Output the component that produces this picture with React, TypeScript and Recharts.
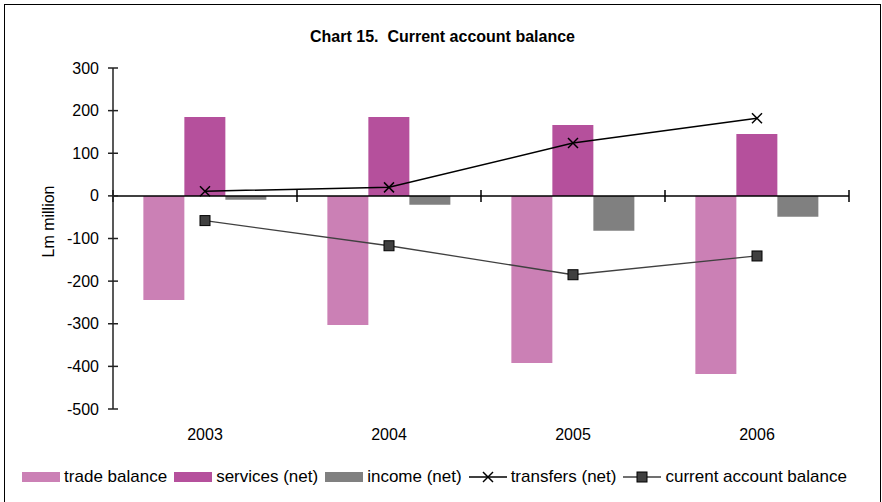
import React from 'react'
import { ComposedChart, Bar, Line, XAxis, YAxis, ReferenceLine, Legend } from 'recharts'

const years = ['2003', '2004', '2005', '2006']
const tradeBalance = [-244, -303, -392, -418]
const servicesNet = [185, 185, 166, 145]
const incomeNet = [-9, -21, -82, -49]
const transfersNet = [11, 20, 124, 182]
const currentAccount = [-58, -117, -185, -141]
const yTicks = [300, 200, 100, 0, -100, -200, -300, -400, -500]

const FONT = '"Liberation Sans", Arial, sans-serif'

const series = [
  { key: 'trade', name: 'trade balance', color: '#cb80b5', kind: 'bar' },
  { key: 'services', name: 'services (net)', color: '#b5509c', kind: 'bar' },
  { key: 'income', name: 'income (net)', color: '#808080', kind: 'bar' },
  { key: 'transfers', name: 'transfers (net)', color: '#000000', kind: 'cross' },
  { key: 'cab', name: 'current account balance', color: '#404040', kind: 'square' },
]

const data = years.map((year, i) => ({
  year,
  trade: tradeBalance[i],
  services: servicesNet[i],
  income: incomeNet[i],
  transfers: transfersNet[i],
  cab: currentAccount[i],
}))

function CrossDot(props: any) {
  const { cx, cy } = props
  if (cx == null || cy == null) return null
  const s = 5
  return (
    <g>
      <line x1={cx - s} y1={cy - s} x2={cx + s} y2={cy + s} stroke="#000" strokeWidth={1.5} />
      <line x1={cx - s} y1={cy + s} x2={cx + s} y2={cy - s} stroke="#000" strokeWidth={1.5} />
    </g>
  )
}

function SquareDot(props: any) {
  const { cx, cy } = props
  if (cx == null || cy == null) return null
  return <rect x={cx - 5} y={cy - 5} width={10} height={10} fill="#404040" stroke="#000" strokeWidth={1} />
}

function YTick(props: any) {
  const { x, y, payload } = props
  const axisX = x + 14
  return (
    <g>
      <line x1={axisX - 5} y1={y} x2={axisX + 5} y2={y} stroke="#222" strokeWidth={1.5} />
      <text x={x} y={y} textAnchor="end" dominantBaseline="central" fontSize={16} fontFamily={FONT} fill="#000">
        {payload.value}
      </text>
    </g>
  )
}

function ZeroLine(props: any) {
  const { x1, y1, x2 } = props
  const n = years.length
  const marks = Array.from({ length: n + 1 }, (_, i) => x1 + ((x2 - x1) * i) / n)
  return (
    <g>
      <line x1={x1} y1={y1} x2={x2} y2={y1} stroke="#000" strokeWidth={1.5} />
      {marks.map((mx, i) => (
        <line key={i} x1={mx} y1={y1 - 6} x2={mx} y2={y1 + 6} stroke="#000" strokeWidth={1.5} />
      ))}
    </g>
  )
}

function LegendContent() {
  return (
    <div style={{ display: 'flex', justifyContent: 'center', alignItems: 'center', fontFamily: FONT, fontSize: 17, color: '#000' }}>
      {series.map((s) => (
        <div key={s.key} style={{ display: 'flex', alignItems: 'center', marginRight: 7 }}>
          <svg width={38} height={12} style={{ marginRight: 4 }}>
            {s.kind === 'bar' && <rect x={0} y={1} width={38} height={10} fill={s.color} />}
            {s.kind === 'cross' && (
              <g>
                <line x1={0} y1={6} x2={38} y2={6} stroke="#000" strokeWidth={1.5} />
                <line x1={14} y1={1} x2={24} y2={11} stroke="#000" strokeWidth={1.5} />
                <line x1={14} y1={11} x2={24} y2={1} stroke="#000" strokeWidth={1.5} />
              </g>
            )}
            {s.kind === 'square' && (
              <g>
                <line x1={0} y1={6} x2={38} y2={6} stroke="#404040" strokeWidth={1.5} />
                <rect x={14} y={1} width={10} height={10} fill="#404040" stroke="#000" strokeWidth={1} />
              </g>
            )}
          </svg>
          <span>{s.name}</span>
        </div>
      ))}
    </div>
  )
}

export default function App() {
  return (
    <div
      style={{
        position: 'absolute',
        left: 4,
        top: 4,
        width: 877,
        height: 510,
        border: '1.5px solid #000',
        boxSizing: 'border-box',
        background: '#fff',
      }}
    >
      <div
        style={{
          position: 'absolute',
          top: 22,
          left: 0,
          width: '100%',
          textAlign: 'center',
          fontFamily: FONT,
          fontWeight: 'bold',
          fontSize: 16,
          lineHeight: '20px',
        }}
      >
        Chart 15.&nbsp; Current account balance
      </div>
      <ComposedChart
        width={874}
        height={497}
        data={data}
        margin={{ top: 63, right: 30, bottom: 15, left: 0 }}
        barCategoryGap="16.5%"
        barGap={0}
      >
        <XAxis
          dataKey="year"
          axisLine={false}
          tickLine={false}
          tickSize={0}
          tickMargin={20}
          height={58}
          tick={{ fontSize: 16, fontFamily: FONT, fill: '#000' }}
        />
        <YAxis
          width={108}
          domain={[-500, 300]}
          ticks={yTicks}
          interval={0}
          allowDataOverflow
          axisLine={{ stroke: '#222', strokeWidth: 1.5 }}
          tickLine={false}
          tickSize={5}
          tickMargin={9}
          tick={<YTick />}
          label={{
            content: (p: any) => {
              const vb = p.viewBox || {}
              const cx = (vb.x ?? 0) + 43
              const cy = (vb.y ?? 0) + (vb.height ?? 0) / 2 - 17
              return (
                <text
                  x={cx}
                  y={cy}
                  transform={`rotate(-90, ${cx}, ${cy})`}
                  textAnchor="middle"
                  dominantBaseline="central"
                  fontSize={16}
                  fontFamily={FONT}
                  fill="#000"
                >
                  Lm million
                </text>
              )
            },
          }}
        />
        <Bar dataKey="trade" name="trade balance" fill="#cb80b5" isAnimationActive={false} />
        <Bar dataKey="services" name="services (net)" fill="#b5509c" isAnimationActive={false} />
        <Bar dataKey="income" name="income (net)" fill="#808080" isAnimationActive={false} />
        <ReferenceLine y={0} shape={<ZeroLine />} />
        <Line
          dataKey="transfers"
          name="transfers (net)"
          stroke="#000"
          strokeWidth={1.5}
          dot={<CrossDot />}
          isAnimationActive={false}
        />
        <Line
          dataKey="cab"
          name="current account balance"
          stroke="#404040"
          strokeWidth={1.3}
          dot={<SquareDot />}
          isAnimationActive={false}
        />
        <Legend verticalAlign="bottom" content={<LegendContent />} wrapperStyle={{ left: 0, width: 866 }} />
      </ComposedChart>
    </div>
  )
}
